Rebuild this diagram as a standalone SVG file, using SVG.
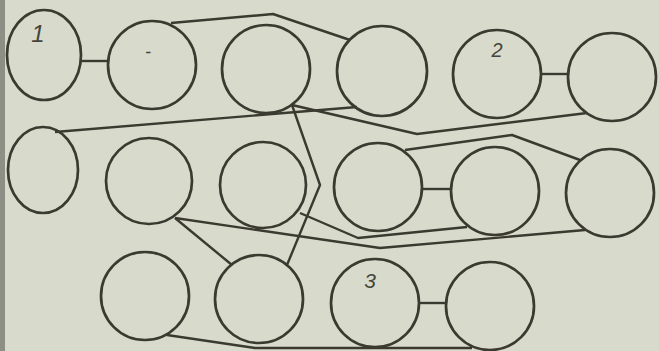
<svg xmlns="http://www.w3.org/2000/svg" width="659" height="351" viewBox="0 0 659 351">
<style>
.n{fill:none;stroke:#3a3a30;stroke-width:2.7}
.e{fill:none;stroke:#3a3a30;stroke-width:2.4;stroke-linejoin:round}
.t{font-family:"Liberation Sans",Arial,sans-serif;font-style:italic;fill:#45453b;text-anchor:middle}
</style>
<rect width="659" height="351" fill="#d8dbcc"/>
<rect width="5" height="351" fill="#8e8f84"/>
<g id="connectors">
<line class="e" x1="81" y1="61" x2="108" y2="61"/>
<line class="e" x1="541" y1="74" x2="569" y2="74"/>
<line class="e" x1="422" y1="189" x2="451" y2="189"/>
<line class="e" x1="418" y1="303" x2="447" y2="303"/>
<polyline class="e" points="171,23 273,14 350,40"/>
<polyline class="e" points="55,132 357,107"/>
<polyline class="e" points="292,105 417,134 587,113"/>
<polyline class="e" points="292,105 320,185 287,265"/>
<polyline class="e" points="300,213 358,238 467,227"/>
<polyline class="e" points="175,218 380,248 585,230"/>
<polyline class="e" points="175,218 232,265"/>
<polyline class="e" points="405,150 512,135 580,160"/>
<polyline class="e" points="167,335 255,348 472,348"/>
</g>
<g id="n1"><ellipse class="n" cx="44" cy="55" rx="37" ry="45"/><text class="t" x="38" y="42" font-size="24">1</text></g>
<g id="n2"><circle class="n" cx="152" cy="65" r="44"/><text class="t" x="148" y="58" font-size="18">-</text></g>
<g id="n3"><circle class="n" cx="266" cy="69" r="44"/></g>
<g id="n4"><circle class="n" cx="382" cy="71" r="45"/></g>
<g id="n5"><circle class="n" cx="497" cy="74" r="44"/><text class="t" x="497" y="57" font-size="20">2</text></g>
<g id="n6"><circle class="n" cx="612" cy="77" r="44"/></g>
<g id="n7"><ellipse class="n" cx="43" cy="170" rx="35" ry="43"/></g>
<g id="n8"><circle class="n" cx="149" cy="181" r="43"/></g>
<g id="n9"><circle class="n" cx="263" cy="185" r="43"/></g>
<g id="n10"><circle class="n" cx="378" cy="187" r="44"/></g>
<g id="n11"><circle class="n" cx="495" cy="191" r="44"/></g>
<g id="n12"><circle class="n" cx="610" cy="193" r="44"/></g>
<g id="n13"><circle class="n" cx="145" cy="296" r="44"/></g>
<g id="n14"><circle class="n" cx="259" cy="299" r="44"/></g>
<g id="n15"><circle class="n" cx="375" cy="303" r="44"/><text class="t" x="370" y="288" font-size="21">3</text></g>
<g id="n16"><circle class="n" cx="490" cy="306" r="44"/></g>
</svg>
